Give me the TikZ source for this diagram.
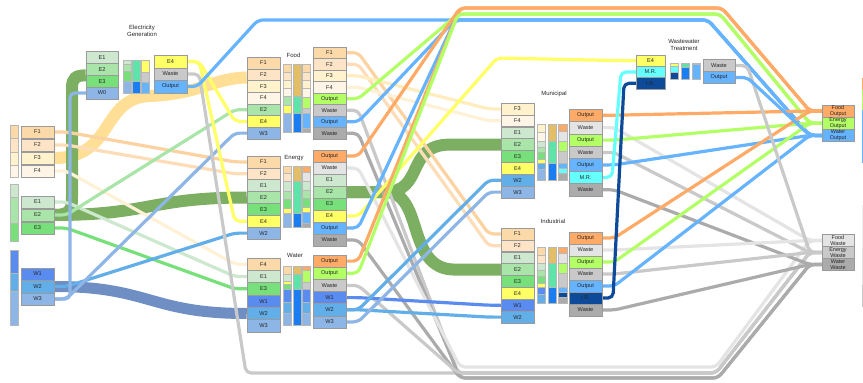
\documentclass[tikz,border=0pt]{standalone}
\usepackage{fontspec}
\setmainfont{Liberation Sans}
\pgfdeclarelayer{flows}
\pgfsetlayers{flows,main}

% box fills
\definecolor{cF1}{HTML}{FCD9A8}
\definecolor{cF2}{HTML}{FDE4C6}
\definecolor{cF3}{HTML}{FFF2CC}
\definecolor{cF4}{HTML}{FFF5E6}
\definecolor{cE1}{HTML}{CDE8CF}
\definecolor{cE2}{HTML}{A9E5A9}
\definecolor{cE3}{HTML}{77E07A}
\definecolor{cE4}{HTML}{FFFF66}
\definecolor{cW1}{HTML}{5A8CF0}
\definecolor{cW2}{HTML}{62AEE8}
\definecolor{cW3}{HTML}{8DB6E6}
\definecolor{cOutO}{HTML}{FFAA66}
\definecolor{cOutG}{HTML}{B3FF66}
\definecolor{cOutB}{HTML}{66B3FF}
\definecolor{cWasteL}{HTML}{E4E4E4}
\definecolor{cWasteM}{HTML}{C9C9C9}
\definecolor{cWasteD}{HTML}{ABABAB}
\definecolor{cMR}{HTML}{66FFFF}
\definecolor{cIR}{HTML}{0D4A99}
\definecolor{cTan}{HTML}{E2BE66}
\definecolor{cTeal}{HTML}{5EE3A8}
\definecolor{cDeep}{HTML}{1A7EF2}
\definecolor{boxline}{HTML}{9A9A9A}
% flow colours
\definecolor{lnF1}{HTML}{FCD3A0}
\definecolor{lnF2}{HTML}{FDDDB8}
\definecolor{lnF3}{HTML}{FFEDC0}
\definecolor{lnF4}{HTML}{FFF1D6}
\definecolor{bandG}{HTML}{7DAF62}
\definecolor{bandO}{HTML}{FFDF95}
\definecolor{bandB}{HTML}{6F8FC4}

\newcommand{\lblfont}{\fontsize{5.6}{6}\selectfont}
\newcommand{\ttlfont}{\fontsize{6}{7}\selectfont}
\newcommand{\sinkfont}{\fontsize{5.5}{5.7}\selectfont}
\newcommand{\barseg}[5]{\path[seg,fill=#5] (#1,#3) rectangle (#2,#4);}
\newcommand{\flowlink}[3]{\draw[flow,#1] (#2.east) -- ++(12,0) -- ([xshift=-12pt]#3.west) -- (#3.west);}

\begin{document}
\begin{tikzpicture}[x=1pt,y=-1pt,
  box/.style={draw=boxline, line width=0.5pt, inner sep=0pt, minimum width=33pt, font=\lblfont, text=black!85},
  hgt/.style={minimum height=#1},
  ttl/.style={align=center, font=\ttlfont, inner sep=0pt, text=black!85},
  sink/.style={box, minimum width=32pt, minimum height=12pt, align=center, font=\sinkfont},
  seg/.style={draw=boxline!70, line width=0.3pt},
  flow/.style={line width=3.2pt, rounded corners=5pt, line join=round},
  band/.style={line width=12pt},
]
\useasboundingbox (0,0) rectangle (863,383);

% ---------- source columns ----------
\node[box,hgt=12.5pt,fill=cF1] (lF1) at (37.5,132) {F1};
\node[box,hgt=12.5pt,fill=cF2] (lF2) at (37.5,145) {F2};
\node[box,hgt=12.5pt,fill=cF3] (lF3) at (37.5,158) {F3};
\node[box,hgt=12.5pt,fill=cF4] (lF4) at (37.5,171) {F4};
\node[box,hgt=12.5pt,fill=cE1] (lE1) at (37.5,202) {E1};
\node[box,hgt=12.5pt,fill=cE2] (lE2) at (37.5,215) {E2};
\node[box,hgt=12.5pt,fill=cE3] (lE3) at (37.5,228) {E3};
\node[box,hgt=12.5pt,fill=cW1] (lW1) at (37.5,274) {W1};
\node[box,hgt=12.5pt,fill=cW2] (lW2) at (37.5,286.5) {W2};
\node[box,hgt=12.5pt,fill=cW3] (lW3) at (37.5,299) {W3};

\barseg{10}{18}{125}{138}{cF1}
\barseg{10}{18}{138}{152}{cF2}
\barseg{10}{18}{152}{165}{cF3}
\barseg{10}{18}{165}{177}{cF4}
\barseg{10}{18}{184}{197}{cE1}
\barseg{10}{18}{197}{223}{cE2}
\barseg{10}{18}{223}{241}{cE3}
\barseg{10}{18}{250}{273}{cW1}
\barseg{10}{18}{273}{291}{cW2}
\barseg{10}{18}{291}{325}{cW3}

% ---------- electricity generation ----------
\node[ttl] (tEG) at (142,31) {Electricity\\Generation};
\node[box,minimum width=32pt,hgt=11.8pt,fill=cE1] (gE1) at (102,57.5) {E1};
\node[box,minimum width=32pt,hgt=11.8pt,fill=cE2] (gE2) at (102,69.3) {E2};
\node[box,minimum width=32pt,hgt=11.8pt,fill=cE3] (gE3) at (102,81.1) {E3};
\node[box,minimum width=32pt,hgt=11.8pt,fill=cW3] (gW0) at (102,92.9) {W0};
\node[box,hgt=12.5pt,fill=cE4] (gO1) at (170.5,61.5) {E4};
\node[box,hgt=12.5pt,fill=cWasteM] (gO2) at (170.5,74) {Waste};
\node[box,hgt=12.5pt,fill=cOutB] (gO3) at (170.5,86.5) {Output};
\barseg{123}{131}{60}{64}{cE1}
\barseg{123}{131}{64}{71}{cE2}
\barseg{123}{131}{71}{81}{cE3}
\barseg{123}{131}{81}{93}{cW3}
\barseg{132}{140}{60}{81}{cTeal}
\barseg{132}{140}{81}{93}{cDeep}
\barseg{141}{149}{60}{72}{cE4}
\barseg{141}{149}{72}{82}{cWasteM}
\barseg{141}{149}{82}{93}{cOutB}

% ---------- food ----------
\node[ttl] (tFood) at (293.5,55) {Food};
\node[box,hgt=11.7pt,fill=cF1] (fi1) at (263.5,62.9) {F1};
\node[box,hgt=11.7pt,fill=cF2] (fi2) at (263.5,74.6) {F2};
\node[box,hgt=11.7pt,fill=cF3] (fi3) at (263.5,86.3) {F3};
\node[box,hgt=11.7pt,fill=cF4] (fi4) at (263.5,98.0) {F4};
\node[box,hgt=11.7pt,fill=cE2] (fi5) at (263.5,109.7) {E2};
\node[box,hgt=11.7pt,fill=cE4] (fi6) at (263.5,121.4) {E4};
\node[box,hgt=11.7pt,fill=cW3] (fi7) at (263.5,133.1) {W3};
\node[box,hgt=11.5pt,fill=cF1] (fo1) at (329.5,52.75) {F1};
\node[box,hgt=11.5pt,fill=cF2] (fo2) at (329.5,64.25) {F2};
\node[box,hgt=11.5pt,fill=cF3] (fo3) at (329.5,75.75) {F3};
\node[box,hgt=11.5pt,fill=cF4] (fo4) at (329.5,87.25) {F4};
\node[box,hgt=11.5pt,fill=cOutG] (fo5) at (329.5,98.75) {Output};
\node[box,hgt=11.5pt,fill=cWasteM] (fo6) at (329.5,110.25) {Waste};
\node[box,hgt=11.5pt,fill=cOutB] (fo7) at (329.5,121.75) {Output};
\node[box,hgt=11.5pt,fill=cWasteD] (fo8) at (329.5,133.25) {Waste};
\barseg{283}{291}{64}{72}{cF1}
\barseg{283}{291}{72}{80}{cF2}
\barseg{283}{291}{80}{88}{cF3}
\barseg{283}{291}{88}{96}{cF4}
\barseg{283}{291}{96}{105}{cE2}
\barseg{283}{291}{105}{113}{cE4}
\barseg{283}{291}{113}{132}{cW3}
\barseg{293}{301}{64}{96}{cTan}
\barseg{293}{301}{96}{113}{cTeal}
\barseg{293}{301}{113}{132}{cDeep}
\barseg{302}{310}{64}{72}{cF1}
\barseg{302}{310}{72}{80}{cF2}
\barseg{302}{310}{80}{88}{cF3}
\barseg{302}{310}{88}{97}{cF4}
\barseg{302}{310}{97}{108}{cOutG}
\barseg{302}{310}{108}{113}{cWasteM}
\barseg{302}{310}{113}{128}{cOutB}
\barseg{302}{310}{128}{132}{cWasteD}

% ---------- energy ----------
\node[ttl] (tEnergy) at (294,158) {Energy};
\node[box,hgt=11.86pt,fill=cF1] (ei1) at (263.5,161.9) {F1};
\node[box,hgt=11.86pt,fill=cF2] (ei2) at (263.5,173.8) {F2};
\node[box,hgt=11.86pt,fill=cE1] (ei3) at (263.5,185.6) {E1};
\node[box,hgt=11.86pt,fill=cE2] (ei4) at (263.5,197.5) {E2};
\node[box,hgt=11.86pt,fill=cE3] (ei5) at (263.5,209.4) {E3};
\node[box,hgt=11.86pt,fill=cE4] (ei6) at (263.5,221.2) {E4};
\node[box,hgt=11.86pt,fill=cW3] (ei7) at (263.5,233.1) {W2};
\node[box,hgt=12pt,fill=cOutO] (eo1) at (329.5,156) {Output};
\node[box,hgt=12pt,fill=cWasteL] (eo2) at (329.5,168) {Waste};
\node[box,hgt=12pt,fill=cE1] (eo3) at (329.5,180) {E1};
\node[box,hgt=12pt,fill=cE2] (eo4) at (329.5,192) {E2};
\node[box,hgt=12pt,fill=cE3] (eo5) at (329.5,204) {E3};
\node[box,hgt=12pt,fill=cE4] (eo6) at (329.5,216) {E4};
\node[box,hgt=12pt,fill=cOutB] (eo7) at (329.5,228) {Output};
\node[box,hgt=12pt,fill=cWasteD] (eo8) at (329.5,240) {Waste};
\barseg{283}{291}{166}{173}{cF1}
\barseg{283}{291}{173}{181}{cF2}
\barseg{283}{291}{181}{191}{cE1}
\barseg{283}{291}{191}{199}{cE2}
\barseg{283}{291}{199}{208}{cE3}
\barseg{283}{291}{208}{213}{cE4}
\barseg{283}{291}{213}{227}{cW3}
\barseg{293}{301}{166}{181}{cTan}
\barseg{293}{301}{181}{213}{cTeal}
\barseg{293}{301}{213}{227}{cDeep}
\barseg{302}{310}{166}{172}{cOutO}
\barseg{302}{310}{172}{181}{cWasteL}
\barseg{302}{310}{181}{190}{cE1}
\barseg{302}{310}{190}{198}{cE2}
\barseg{302}{310}{198}{207}{cE3}
\barseg{302}{310}{207}{212}{cE4}
\barseg{302}{310}{212}{223}{cOutB}
\barseg{302}{310}{223}{227}{cWasteD}

% ---------- water ----------
\node[ttl] (tWater) at (295,255.5) {Water};
\node[box,hgt=12.33pt,fill=cF1] (wi1) at (263.5,264.2) {F4};
\node[box,hgt=12.33pt,fill=cE1] (wi2) at (263.5,276.5) {E1};
\node[box,hgt=12.33pt,fill=cE3] (wi3) at (263.5,288.8) {E3};
\node[box,hgt=12.33pt,fill=cW1] (wi4) at (263.5,301.2) {W1};
\node[box,hgt=12.33pt,fill=cW2] (wi5) at (263.5,313.5) {W2};
\node[box,hgt=12.33pt,fill=cW3] (wi6) at (263.5,325.8) {W3};
\node[box,hgt=12.17pt,fill=cOutO] (wo1) at (329.5,261.1) {Output};
\node[box,hgt=12.17pt,fill=cOutG] (wo2) at (329.5,273.25) {Output};
\node[box,hgt=12.17pt,fill=cWasteM] (wo3) at (329.5,285.4) {Waste};
\node[box,hgt=12.17pt,fill=cW1] (wo4) at (329.5,297.6) {W1};
\node[box,hgt=12.17pt,fill=cW2] (wo5) at (329.5,309.75) {W2};
\node[box,hgt=12.17pt,fill=cW3] (wo6) at (329.5,321.9) {W3};
\barseg{283}{291}{266}{274}{cF1}
\barseg{283}{291}{274}{281}{cE1}
\barseg{283}{291}{281}{284}{cE4}
\barseg{283}{291}{284}{289}{cE3}
\barseg{283}{291}{289}{302}{cW1}
\barseg{283}{291}{302}{313}{cW2}
\barseg{283}{291}{313}{325}{cW3}
\barseg{293}{301}{266}{274}{cTan}
\barseg{293}{301}{274}{289}{cTeal}
\barseg{293}{301}{289}{325}{cDeep}
\barseg{302}{310}{266}{270}{cOutO}
\barseg{302}{310}{270}{282}{cOutG}
\barseg{302}{310}{282}{289}{cWasteM}
\barseg{302}{310}{289}{302}{cW1}
\barseg{302}{310}{302}{313}{cW2}
\barseg{302}{310}{313}{325}{cW3}

% ---------- municipal ----------
\node[ttl] (tMun) at (554,94) {Municipal};
\node[box,hgt=11.875pt,fill=cF3] (mi1) at (517.5,108.9) {F3};
\node[box,hgt=11.875pt,fill=cF4] (mi2) at (517.5,120.8) {F4};
\node[box,hgt=11.875pt,fill=cE1] (mi3) at (517.5,132.7) {E1};
\node[box,hgt=11.875pt,fill=cE2] (mi4) at (517.5,144.6) {E2};
\node[box,hgt=11.875pt,fill=cE3] (mi5) at (517.5,156.4) {E3};
\node[box,hgt=11.875pt,fill=cE4] (mi6) at (517.5,168.3) {E4};
\node[box,hgt=11.875pt,fill=cW2] (mi7) at (517.5,180.2) {W2};
\node[box,hgt=11.875pt,fill=cW3] (mi8) at (517.5,192.1) {W3};
\node[box,hgt=12.43pt,fill=cOutO] (mo1) at (585.5,115.2) {Output};
\node[box,hgt=12.43pt,fill=cWasteL] (mo2) at (585.5,127.6) {Waste};
\node[box,hgt=12.43pt,fill=cOutG] (mo3) at (585.5,140.1) {Output};
\node[box,hgt=12.43pt,fill=cWasteM] (mo4) at (585.5,152.5) {Waste};
\node[box,hgt=12.43pt,fill=cOutB] (mo5) at (585.5,164.9) {Output};
\node[box,hgt=12.43pt,fill=cMR] (mo6) at (585.5,177.4) {M.R.};
\node[box,hgt=12.43pt,fill=cWasteD] (mo7) at (585.5,189.8) {Waste};
\barseg{537}{545}{124}{132}{cF3}
\barseg{537}{545}{132}{141}{cF4}
\barseg{537}{545}{141}{147}{cE1}
\barseg{537}{545}{147}{152}{cE2}
\barseg{537}{545}{152}{159}{cE3}
\barseg{537}{545}{159}{163}{cE4}
\barseg{537}{545}{163}{169}{cW2}
\barseg{537}{545}{169}{180}{cW3}
\barseg{548}{556}{124}{141}{cTan}
\barseg{548}{556}{141}{163}{cTeal}
\barseg{548}{556}{163}{180}{cDeep}
\barseg{558}{567}{124}{131}{cOutO}
\barseg{558}{567}{131}{141}{cWasteL}
\barseg{558}{567}{141}{151}{cOutG}
\barseg{558}{567}{151}{163}{cWasteM}
\barseg{558}{567}{163}{168}{cOutB}
\barseg{558}{567}{168}{173}{cMR}
\barseg{558}{567}{173}{180}{cWasteD}

% ---------- industrial ----------
\node[ttl] (tInd) at (553,221.5) {Industrial};
\node[box,hgt=11.875pt,fill=cF1] (ii1) at (517.5,233.9) {F1};
\node[box,hgt=11.875pt,fill=cF2] (ii2) at (517.5,245.8) {F2};
\node[box,hgt=11.875pt,fill=cE1] (ii3) at (517.5,257.7) {E1};
\node[box,hgt=11.875pt,fill=cE2] (ii4) at (517.5,269.6) {E2};
\node[box,hgt=11.875pt,fill=cE3] (ii5) at (517.5,281.4) {E3};
\node[box,hgt=11.875pt,fill=cE4] (ii6) at (517.5,293.3) {E4};
\node[box,hgt=11.875pt,fill=cW1] (ii7) at (517.5,305.2) {W1};
\node[box,hgt=11.875pt,fill=cW2] (ii8) at (517.5,317.1) {W2};
\node[box,hgt=12pt,fill=cOutO] (io1) at (585.5,238) {Output};
\node[box,hgt=12pt,fill=cWasteL] (io2) at (585.5,250) {Waste};
\node[box,hgt=12pt,fill=cOutG] (io3) at (585.5,262) {Output};
\node[box,hgt=12pt,fill=cWasteM] (io4) at (585.5,274) {Waste};
\node[box,hgt=12pt,fill=cOutB] (io5) at (585.5,286) {Output};
\node[box,hgt=12pt,fill=cIR] (io6) at (585.5,298) {I.R.};
\node[box,hgt=12pt,fill=cWasteD] (io7) at (585.5,310) {Waste};
\barseg{537}{545}{247}{255}{cF1}
\barseg{537}{545}{255}{263}{cF2}
\barseg{537}{545}{263}{270}{cE1}
\barseg{537}{545}{270}{276}{cE2}
\barseg{537}{545}{276}{283}{cE3}
\barseg{537}{545}{283}{287}{cE4}
\barseg{537}{545}{287}{294}{cW1}
\barseg{537}{545}{294}{303}{cW2}
\barseg{548}{556}{247}{263}{cTan}
\barseg{548}{556}{263}{287}{cTeal}
\barseg{548}{556}{287}{303}{cDeep}
\barseg{558}{567}{247}{253}{cOutO}
\barseg{558}{567}{253}{263}{cWasteL}
\barseg{558}{567}{263}{273}{cOutG}
\barseg{558}{567}{273}{287}{cWasteM}
\barseg{558}{567}{287}{292}{cOutB}
\barseg{558}{567}{292}{297}{cIR}
\barseg{558}{567}{297}{303}{cWasteD}

% ---------- wastewater treatment ----------
\node[ttl] (tWW) at (684,45) {Wastewater\\Treatment};
\node[box,minimum width=29pt,hgt=11.33pt,fill=cE4] (ti1) at (650.5,60.7) {E4};
\node[box,minimum width=29pt,hgt=11.33pt,fill=cMR] (ti2) at (650.5,72) {M.R.};
\node[box,minimum width=29pt,hgt=11.33pt,fill=cIR] (ti3) at (650.5,83.3) {I.R.};
\node[box,minimum width=32pt,hgt=12pt,fill=cWasteM] (to1) at (719,65.5) {Waste};
\node[box,minimum width=32pt,hgt=12pt,fill=cOutB] (to2) at (719,77.5) {Output};
\barseg{670}{678}{63}{66}{cE4}
\barseg{670}{678}{66}{72}{cMR}
\barseg{670}{678}{72}{79}{cIR}
\barseg{681}{689}{63}{67}{cTeal}
\barseg{681}{689}{67}{79}{cDeep}
\barseg{692}{700}{63}{64.5}{cWasteM}
\barseg{692}{700}{64.5}{79}{cOutB}

% ---------- sinks ----------
\node[sink,minimum height=12.2pt,fill=cOutO] (xFO) at (838,111) {Food\\Output};
\node[sink,minimum height=12.2pt,fill=cOutG] (xEO) at (838,123.2) {Energy\\Output};
\node[sink,minimum height=12.2pt,fill=cOutB] (xWO) at (838,135.4) {Water\\Output};
\node[sink,fill=cWasteL] (xFW) at (838,240.5) {Food\\Waste};
\node[sink,fill=cWasteM] (xEW) at (838,252.5) {Energy\\Waste};
\node[sink,fill=cWasteD] (xWW) at (838,264.5) {Water\\Waste};
\fill[cOutO] (861.5,78) rectangle (863,90);
\fill[cOutG] (861.5,90) rectangle (863,110);
\fill[cOutB] (861.5,110) rectangle (863,163);
\fill[cWasteL!60] (861.5,205) rectangle (863,248);
\fill[cWasteL] (861.5,248) rectangle (863,285);
\fill[cWasteM] (861.5,285) rectangle (863,307);

% ---------- route waypoints ----------
\coordinate (topO1) at (460,8);   \coordinate (topO2) at (722,8);
\coordinate (topG1) at (458,14);  \coordinate (topG2) at (720,14);
\coordinate (topB0) at (258,20);
\coordinate (topB1) at (455,20);  \coordinate (topB2) at (708,20);
\coordinate (botL1) at (460,367); \coordinate (botL2) at (716,367);
\coordinate (botM0) at (246,373);
\coordinate (botM1) at (458,373); \coordinate (botM2) at (716,373);
\coordinate (botD1) at (460,378); \coordinate (botD2) at (718,378);

\begin{pgfonlayer}{flows}
% broad streams
\draw[band,bandO] (lF3.east) .. controls (115,158) and (100,98) .. (150,96)
  .. controls (200,94) and (215,77.6) .. ([yshift=-3pt]fi2.west);
\draw[band,bandG] (lE2.east) .. controls (72,215) and (72,208) .. (72,195) -- (72,88)
  .. controls (72,78) and (76,75.2) .. (gE2.south west);
\draw[band,bandG] (lE2.east) .. controls (150,215) and (150,197.5) .. (ei4.west);
\draw[band,bandG] (eo4.east) -- (385,192) .. controls (425,192) and (405,144.6) .. (450,144.6) -- (mi4.west);
\draw[band,bandG] (eo4.east) -- (385,192) .. controls (425,192) and (405,269.6) .. (455,269.6) -- (ii4.west);
\draw[band,bandB,line width=11pt] (lW2.east) .. controls (150,286.5) and (150,313.5) .. (wi5.west);

% sources to processes
\flowlink{lnF1}{lF1}{ei1}
\flowlink{lnF2}{lF2}{ei2}
\flowlink{lnF4}{lF4}{wi1}
\flowlink{cE1}{lE1}{wi2}
\flowlink{cE2}{lE2}{fi5}
\flowlink{cE3}{lE3}{wi3}
\flowlink{cW2}{lW2}{ei7}
\flowlink{cW3}{lW3}{fi7}
\draw[flow,cW3] (lW3.east) -- (70,299) -- (70,92.9) -- (gW0.west);

% electricity generation
\flowlink{cE4}{gO1}{fi6}
\flowlink{cE4}{gO1}{ei6}
\draw[flow,cWasteM] (gO2.east) -- ++(12,0) -- (botM0) -- (botM2) -- ([xshift=-12pt]xEW.west) -- (xEW.west);
\draw[flow,cOutB] (gO3.east) -- ++(10,0) -- (topB0) -- (topB2) -- ([xshift=-12pt]xWO.west) -- (xWO.west);

% food
\flowlink{lnF1}{fo1}{ii1}
\flowlink{lnF2}{fo2}{ii2}
\flowlink{lnF3}{fo3}{mi1}
\flowlink{lnF4}{fo4}{mi2}
\draw[flow,cOutG] (fo5.east) -- ++(12,0) -- (topG1) -- (topG2) -- ([xshift=-12pt]xEO.west) -- (xEO.west);
\draw[flow,cWasteM] (fo6.east) -- ++(12,0) -- (botM1) -- (botM2) -- ([xshift=-12pt]xEW.west) -- (xEW.west);
\draw[flow,cOutB] (fo7.east) -- ++(12,0) -- (topB1) -- (topB2) -- ([xshift=-12pt]xWO.west) -- (xWO.west);
\draw[flow,cWasteD] (fo8.east) -- ++(12,0) -- (botD1) -- (botD2) -- ([xshift=-12pt]xWW.west) -- (xWW.west);

% energy
\draw[flow,cOutO] (eo1.east) -- ++(12,0) -- (topO1) -- (topO2) -- ([xshift=-12pt]xFO.west) -- (xFO.west);
\draw[flow,cWasteL] (eo2.east) -- ++(12,0) -- (botL1) -- (botL2) -- ([xshift=-12pt]xFW.west) -- (xFW.west);
\draw[flow,cE4] (eo6.east) -- ++(12,0) -- (497,58) -- ([xshift=-12pt]ti1.west) -- (ti1.west);
\draw[flow,cOutB] (eo7.east) -- ++(12,0) -- (topB1) -- (topB2) -- ([xshift=-12pt]xWO.west) -- (xWO.west);
\draw[flow,cWasteD] (eo8.east) -- ++(12,0) -- (botD1) -- (botD2) -- ([xshift=-12pt]xWW.west) -- (xWW.west);

% water
\draw[flow,cOutO] (wo1.east) -- ++(12,0) -- (topO1) -- (topO2) -- ([xshift=-12pt]xFO.west) -- (xFO.west);
\draw[flow,cOutG] (wo2.east) -- ++(12,0) -- (topG1) -- (topG2) -- ([xshift=-12pt]xEO.west) -- (xEO.west);
\draw[flow,cWasteM] (wo3.east) -- ++(12,0) -- (botM1) -- (botM2) -- ([xshift=-12pt]xEW.west) -- (xEW.west);
\flowlink{cW1}{wo4}{ii7}
\flowlink{cW2}{wo5}{ii8}
\flowlink{cW2}{wo5}{mi7}
\flowlink{cW3}{wo6}{mi8}

% municipal
\flowlink{cOutO}{mo1}{xFO}
\flowlink{cWasteL}{mo2}{xFW}
\flowlink{cOutG}{mo3}{xEO}
\flowlink{cWasteM}{mo4}{xEW}
\flowlink{cOutB}{mo5}{xWO}
\draw[flow,cMR] (mo6.east) -- (612,177.4) -- (621,72) -- (ti2.west);
\flowlink{cWasteD}{mo7}{xWW}

% industrial
\flowlink{cOutO}{io1}{xFO}
\flowlink{cWasteL}{io2}{xFW}
\flowlink{cOutG}{io3}{xEO}
\flowlink{cWasteM}{io4}{xEW}
\flowlink{cOutB}{io5}{xWO}
\draw[flow,cIR] (io6.east) -- (613,298) -- (624,83.3) -- (ti3.west);
\flowlink{cWasteD}{io7}{xWW}

% wastewater treatment
\flowlink{cWasteM}{to1}{xEW}
\flowlink{cOutB}{to2}{xWO}
\end{pgfonlayer}
\end{tikzpicture}
\end{document}
